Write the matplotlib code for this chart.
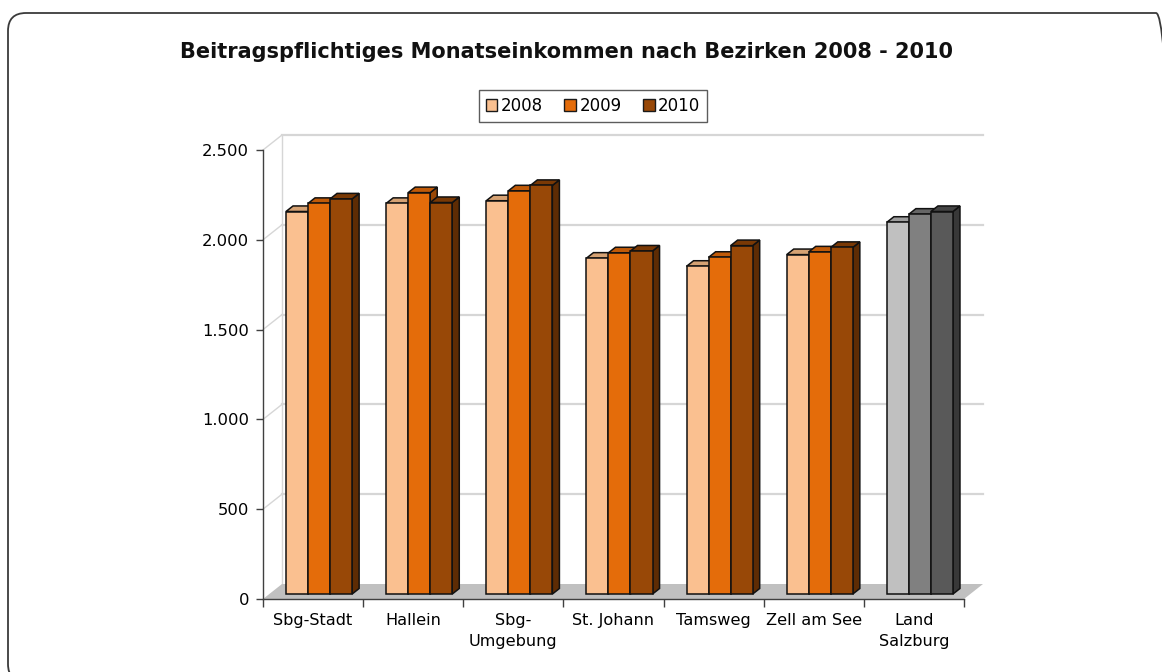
import numpy as np
import matplotlib
matplotlib.use('Agg')
import matplotlib.pyplot as plt
import matplotlib.patches as mpatches
from matplotlib.transforms import IdentityTransform

# data (Euro per month)
bezirke = ['Sbg-Stadt', 'Hallein', 'Sbg-\nUmgebung', 'St. Johann', 'Tamsweg', 'Zell am See', 'Land\nSalzburg']
years = ['2008', '2009', '2010']
v2008 = [2130, 2175, 2190, 1870, 1825, 1890, 2070]
v2009 = [2175, 2235, 2245, 1900, 1875, 1905, 2115]
v2010 = [2200, 2180, 2275, 1910, 1940, 1930, 2130]
yticks = [0, 500, 1000, 1500, 2000, 2500]
ytick_labels = ['0', '500', '1.000', '1.500', '2.000', '2.500']

# colours: (front, top, side)
orange = [('#FAC090', '#D6A273', '#B88A60'),
          ('#E46C0A', '#C05A08', '#9A4806'),
          ('#984807', '#7A3905', '#5E2C04')]
grey = [('#C0C0C0', '#9E9E9E', '#7A7A7A'),
        ('#808080', '#666666', '#505050'),
        ('#595959', '#454545', '#383838')]

W, H = 1162, 672
fig = plt.figure(figsize=(W / 100, H / 100), dpi=100)
fig.patch.set_facecolor('white')

# rounded frame around the whole chart
frame = mpatches.FancyBboxPatch((8, -10), 1166, 669, boxstyle='round,pad=0,rounding_size=18',
                                transform=IdentityTransform(), fill=False,
                                edgecolor='#3a3a3a', linewidth=1.3)
fig.add_artist(frame)

ax = fig.add_axes([263 / W, 73 / H, 701 / W, 449 / H])
ax.set_xlim(0, 7)
ax.set_ylim(0, 2500)

# depth of the 3d box in data units
DX = 19 / 701 * 7
DY = 15 / 449 * 2500
z0, z1 = 0.33, 0.70  # depth range of the bars

# floor
ax.add_patch(mpatches.Polygon([(0, 0), (7, 0), (7 + DX, DY), (DX, DY)], closed=True,
                              facecolor='#C0C0C0', edgecolor='none', zorder=1, clip_on=False))
# back wall grid + side wall diagonals
for t in yticks[1:]:
    ax.plot([DX, 7 + DX], [t + DY, t + DY], color='#d6d6d6', lw=1.6, zorder=0.5, clip_on=False)
    ax.plot([0, DX], [t, t + DY], color='#d6d6d6', lw=1.0, zorder=0.5, clip_on=False)
ax.plot([DX, DX], [DY, 2500 + DY], color='#d6d6d6', lw=1.0, zorder=0.5, clip_on=False)

# bars
vals = [v2008, v2009, v2010]
bw = 0.22
start = 0.167
for i in range(len(bezirke)):
    pal = grey if i == len(bezirke) - 1 else orange
    for j in range(3):
        v = vals[j][i]
        x0 = i + start + j * bw
        fx0, fy0 = x0 + z0 * DX, z0 * DY
        bx, by = (z1 - z0) * DX, (z1 - z0) * DY
        front, top, side = pal[j]
        zo = 2 + i * 3 + j
        side_poly = [(fx0 + bw, fy0), (fx0 + bw + bx, fy0 + by), (fx0 + bw + bx, fy0 + by + v), (fx0 + bw, fy0 + v)]
        top_poly = [(fx0, fy0 + v), (fx0 + bw, fy0 + v), (fx0 + bw + bx, fy0 + by + v), (fx0 + bx, fy0 + by + v)]
        ax.add_patch(mpatches.Polygon(side_poly, closed=True, facecolor=side, edgecolor='#111111',
                                      lw=1.1, zorder=zo, clip_on=False))
        ax.add_patch(mpatches.Polygon(top_poly, closed=True, facecolor=top, edgecolor='#111111',
                                      lw=1.1, zorder=zo, clip_on=False))
        ax.add_patch(mpatches.Rectangle((fx0, fy0), bw, v, facecolor=front, edgecolor='#111111',
                                        lw=1.1, zorder=zo, clip_on=False))

# axes styling
for s in ['top', 'right']:
    ax.spines[s].set_visible(False)
for s in ['left', 'bottom']:
    ax.spines[s].set_color('#404040')
    ax.spines[s].set_linewidth(1.0)
    ax.spines[s].set_zorder(40)
ax.set_yticks(yticks)
ax.set_yticklabels(ytick_labels, fontsize=11.8)
ax.tick_params(axis='y', length=5, width=1, color='#404040', pad=5)
ax.set_xticks(np.arange(0, 8))
ax.set_xticklabels([])
ax.tick_params(axis='x', which='major', length=6, width=1, color='#404040', direction='out')
ax.set_xticks(np.arange(7) + 0.5, minor=True)
ax.set_xticklabels(bezirke, minor=True, fontsize=11.6, linespacing=1.55)
ax.tick_params(axis='x', which='minor', length=0, pad=10)
ax.set_facecolor('none')

# legend
handles = [mpatches.Patch(facecolor=orange[k][0], edgecolor='#1a1a1a', lw=1.0, label=years[k]) for k in range(3)]
leg = fig.legend(handles=handles, loc='center', bbox_to_anchor=(593 / W, (H - 106) / H), ncol=3,
                 fontsize=12, frameon=True, fancybox=False, edgecolor='#333333',
                 handlelength=0.7, handleheight=0.7, handletextpad=0.2, columnspacing=1.3,
                 borderpad=0.4, borderaxespad=0)
leg.get_frame().set_linewidth(1.0)

fig.text(566 / W, (H - 52) / H, 'Beitragspflichtiges Monatseinkommen nach Bezirken 2008 - 2010',
         ha='center', va='center', fontsize=15, fontweight='bold', color='#111111')

fig.savefig('out.png', dpi=100)
